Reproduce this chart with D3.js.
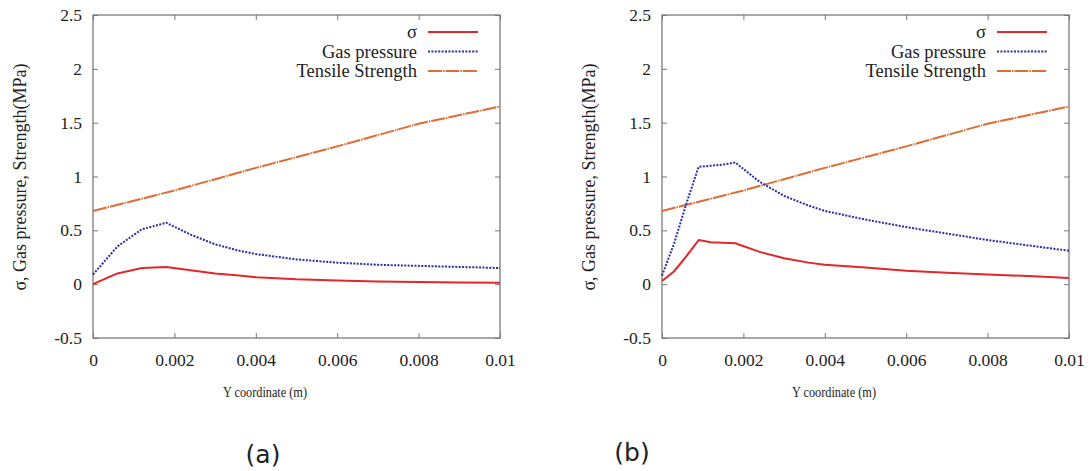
<!DOCTYPE html>
<html>
<head>
<meta charset="utf-8">
<script src="https://cdn.jsdelivr.net/npm/d3@7"></script>
<style>
  body { margin: 0; background: #fff; }
  svg { display: block; }
  svg text { font-family: 'Liberation Serif', 'Times New Roman', Times, serif; fill: #222; }
  svg text.panel { font-family: 'DejaVu Sans', sans-serif; }
</style>
</head>
<body>
<div class="chart"></div>
<script>
// values
const xTicks = [0, 0.002, 0.004, 0.006, 0.008, 0.01]
const yTicks = [-0.5, 0, 0.5, 1, 1.5, 2, 2.5]
const legendLabels = ['σ', 'Gas pressure', 'Tensile Strength']

// tensile strength (same in both panels)
const tensileX = [0, 0.002, 0.004, 0.006, 0.008, 0.01]
const tensile = [0.68, 0.87, 1.08, 1.28, 1.49, 1.65]

// panel (a)
const xA = [0, 0.0006, 0.0012, 0.0018, 0.0024, 0.003, 0.0036, 0.004, 0.005, 0.006, 0.007, 0.008, 0.009, 0.01]
const sigmaA = [0.0, 0.1, 0.15, 0.16, 0.13, 0.1, 0.08, 0.065, 0.045, 0.035, 0.025, 0.02, 0.015, 0.013]
const gasA = [0.09, 0.35, 0.51, 0.57, 0.46, 0.37, 0.31, 0.28, 0.23, 0.2, 0.18, 0.17, 0.16, 0.15]

// panel (b)
const xB = [0, 0.0003, 0.0006, 0.0009, 0.0012, 0.0015, 0.0018, 0.0024, 0.003, 0.0036, 0.004, 0.005, 0.006, 0.007, 0.008, 0.009, 0.01]
const sigmaB = [0.03, 0.12, 0.26, 0.41, 0.39, 0.385, 0.38, 0.3, 0.24, 0.2, 0.18, 0.155, 0.125, 0.105, 0.09, 0.075, 0.058]
const gasB = [0.08, 0.38, 0.75, 1.09, 1.1, 1.11, 1.13, 0.95, 0.82, 0.73, 0.68, 0.6, 0.53, 0.47, 0.41, 0.36, 0.31]

const panelLabels = ['(a)', '(b)']

var width = 1091
var height = 471

var svg = d3.select('.chart')
    .append('svg')
    .attr('width', width)
    .attr('height', height)
    .style('background-color', '#fff')

const styles = [
    { stroke: '#e3262b', dash: null },
    { stroke: '#2c2ca6', dash: '2,1.4' },
    { stroke: '#de6c34', dash: '14,1,1.5,1' }
]

function drawPanel(left, xs, sigma, gas, label, labelX, labelY) {
    var top = 15
    var w = 407
    var h = 323

    var xScale = d3.scaleLinear().domain([0, 0.01]).range([0, w])
    var yScale = d3.scaleLinear().domain([-0.5, 2.5]).range([h, 0])

    var g = svg.append('g').attr('transform', `translate(${left}, ${top})`)

    // inward ticks on all four sides
    g.append('g').attr('transform', `translate(0, ${h})`)
        .call(d3.axisBottom(xScale).tickValues(xTicks).tickSizeInner(-5).tickSizeOuter(0).tickPadding(16)
            .tickFormat(d => d === 0 ? '0' : String(+d.toFixed(3))))
    g.append('g')
        .call(d3.axisTop(xScale).tickValues(xTicks).tickSizeInner(-5).tickSizeOuter(0).tickFormat(''))
    g.append('g')
        .call(d3.axisLeft(yScale).tickValues(yTicks).tickSizeInner(-5).tickSizeOuter(0).tickPadding(11)
            .tickFormat(d => d))
    g.append('g').attr('transform', `translate(${w}, 0)`)
        .call(d3.axisRight(yScale).tickValues(yTicks).tickSizeInner(-5).tickSizeOuter(0).tickFormat(''))

    g.selectAll('.domain').remove()
    g.selectAll('g').attr('font-family', null).attr('font-size', null)
    g.selectAll('.tick line').attr('stroke', '#777').attr('stroke-width', 1)
    g.selectAll('.tick text')
        .attr('fill', '#222')
        .style('font-size', '17.5px')

    g.append('rect')
        .attr('width', w).attr('height', h)
        .attr('fill', 'none')
        .attr('stroke', '#7a7a7a')
        .attr('stroke-width', 1.3)

    var line = d3.line()
        .x(d => xScale(d[0]))
        .y(d => yScale(d[1]))

    const series = [
        xs.map((x, i) => [x, sigma[i]]),
        xs.map((x, i) => [x, gas[i]]),
        tensileX.map((x, i) => [x, tensile[i]])
    ]

    // tensile first so the others sit on top of it
    ;[2, 1, 0].forEach(k => {
        g.append('path')
            .attr('d', line(series[k]))
            .attr('fill', 'none')
            .attr('stroke', styles[k].stroke)
            .attr('stroke-width', 2)
            .attr('stroke-dasharray', styles[k].dash)
            .attr('stroke-linejoin', 'round')
    })

    // legend, top right
    legendLabels.forEach((t, i) => {
        var ly = 17 + i * 19.5
        g.append('text')
            .attr('x', w - 83)
            .attr('y', ly)
            .attr('dy', '0.35em')
            .attr('text-anchor', 'end')
            .style('font-size', '18.5px')
            .text(t)
        g.append('line')
            .attr('x1', w - 72).attr('x2', w - 22)
            .attr('y1', ly).attr('y2', ly)
            .attr('stroke', styles[i].stroke)
            .attr('stroke-width', 2)
            .attr('stroke-dasharray', styles[i].dash)
    })

    // axis titles
    svg.append('text')
        .attr('transform', `translate(${left - 73}, ${top + 162}) rotate(-90)`)
        .attr('text-anchor', 'middle')
        .attr('dy', '0.35em')
        .style('font-size', '18px')
        .text('σ, Gas pressure, Strength(MPa)')

    svg.append('text')
        .attr('x', left + 172)
        .attr('y', 392)
        .attr('dy', '0.35em')
        .attr('text-anchor', 'middle')
        .style('font-size', '15px')
        .attr('textLength', 84)
        .attr('lengthAdjust', 'spacingAndGlyphs')
        .text('Y coordinate (m)')

    svg.append('text')
        .attr('class', 'panel')
        .attr('x', labelX)
        .attr('y', labelY)
        .attr('dy', '0.35em')
        .attr('text-anchor', 'middle')
        .style('font-size', '25px')
        .text(label)
}

drawPanel(93, xA, sigmaA, gasA, panelLabels[0], 263, 454)
drawPanel(662, xB, sigmaB, gasB, panelLabels[1], 632, 452)
</script>
</body>
</html>
